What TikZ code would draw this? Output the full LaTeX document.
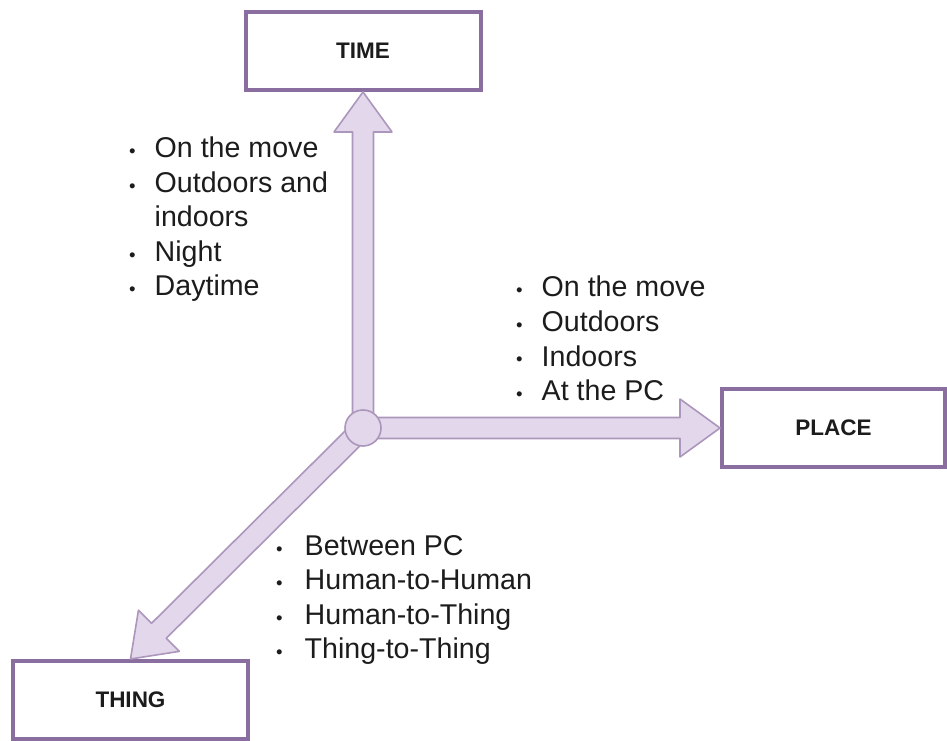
\documentclass[tikz,border=0pt]{standalone}
\usepackage{fontspec}
\setmainfont{Liberation Sans}
\usepackage{tikz}
\usetikzlibrary{calc}

\definecolor{boxline}{RGB}{138,110,160}
\definecolor{arrowline}{RGB}{172,150,188}
\definecolor{arrowfill}{RGB}{227,215,235}
\definecolor{listtext}{RGB}{28,28,28}

\newcommand{\bul}{\scalebox{0.65}{\textbullet}}
% fat arrow from a point to a node anchor
\newcommand{\fatarrow}[2]{%
  \draw[bigarrow] let \p1=(#1), \p2=(#2),
      \n1={atan2(\y2-\y1,\x2-\x1)}, \n2={veclen(\x2-\x1,\y2-\y1)-40}
    in ($(\p1)+({\n1+90}:10.5)$)
    -- ($(\p1)+(\n1:\n2)+({\n1+90}:10.5)$)
    -- ($(\p1)+(\n1:\n2)+({\n1+90}:29)$)
    -- (\p2)
    -- ($(\p1)+(\n1:\n2)+({\n1-90}:29)$)
    -- ($(\p1)+(\n1:\n2)+({\n1-90}:10.5)$)
    -- ($(\p1)+({\n1-90}:10.5)$) -- cycle;}

\begin{document}
\begin{tikzpicture}[x=1pt, y=1pt,
  labelbox/.style={draw=boxline, line width=4pt, fill=white, rectangle,
    minimum height=78pt, text=listtext,
    font=\fontsize{22.5}{27}\selectfont\bfseries},
  bigarrow/.style={draw=arrowline, line width=1.6pt, fill=arrowfill, line join=round},
  hubdot/.style={circle, draw=arrowline, line width=1.6pt, fill=arrowfill,
    minimum size=36pt, inner sep=0pt},
  itemlist/.style={anchor=base west, inner sep=0pt, text=listtext,
    font=\fontsize{28.6}{34.5}\selectfont}
]
  \useasboundingbox (0,0) rectangle (947,740);

  % the three boxes
  \node[labelbox, minimum width=235pt] (time) at (363,689) {TIME};
  \node[labelbox, minimum width=223pt] (place) at (833.5,312) {PLACE};
  \node[labelbox, minimum width=235pt] (thing) at (130.5,40) {THING};

  % arrows out of the hub
  \coordinate (hub) at (363,312);
  \fatarrow{hub}{time.south}
  \fatarrow{hub}{place.west}
  \fatarrow{hub}{thing.north}
  \node[hubdot] (hubdisc) at (hub) {};

  % lists
  \node[itemlist] (timelist) at (129,582) {%
    \begin{tabular}[t]{@{}l@{\hspace{19pt}}l@{}}
      \bul & On the move\\
      \bul & Outdoors and\\
           & indoors\\
      \bul & Night\\
      \bul & Daytime
    \end{tabular}};
  \node[itemlist] (placelist) at (516,443) {%
    \begin{tabular}[t]{@{}l@{\hspace{19pt}}l@{}}
      \bul & On the move\\
      \bul & Outdoors\\
      \bul & Indoors\\
      \bul & At the PC
    \end{tabular}};
  \node[itemlist] (thinglist) at (276,185) {%
    \begin{tabular}[t]{@{}l@{\hspace{22pt}}l@{}}
      \bul & Between PC\\
      \bul & Human-to-Human\\
      \bul & Human-to-Thing\\
      \bul & Thing-to-Thing
    \end{tabular}};

\end{tikzpicture}
\end{document}
